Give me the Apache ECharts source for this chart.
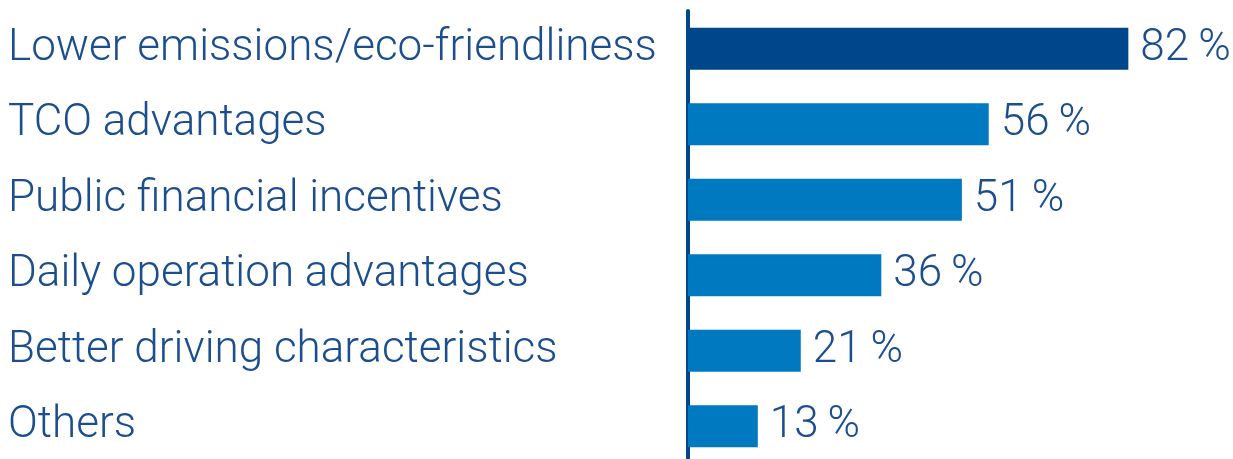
<!DOCTYPE html>
<html>
<head>
<meta charset="utf-8">
<script src="https://cdn.jsdelivr.net/npm/echarts@6/dist/echarts.min.js"></script>
<style>
  html, body { margin: 0; padding: 0; background: #ffffff; overflow: hidden; }
  #chart { width: 1233px; height: 459px; }
</style>
</head>
<body>
<div id="chart"></div>
<script>
// Reasons given, share of respondents (%)
const categories = [
  'Lower emissions/eco-friendliness',
  'TCO advantages',
  'Public financial incentives',
  'Daily operation advantages',
  'Better driving characteristics',
  'Others'
];
const shares = [82, 56, 51, 36, 21, 13];

const DARK = '#00468a';
const LIGHT = '#0079c1';
const TEXT = '#1b4e8e';
const FONT = 'Roboto, "Liberation Sans", Arial, sans-serif';

const chart = echarts.init(document.getElementById('chart'), null, { renderer: 'canvas' });

chart.setOption({
  animation: false,
  grid: {
    left: 688, width: 537, top: 11, height: 453,
    containLabel: false,
    outerBoundsMode: 'none'
  },
  xAxis: {
    type: 'value', min: 0, max: 100,
    show: false
  },
  yAxis: {
    type: 'category',
    data: categories,
    inverse: true,
    axisLine: { show: true, lineStyle: { color: DARK, width: 4 } },
    axisTick: { show: false },
    axisLabel: {
      align: 'left',
      margin: 680,
      color: TEXT,
      fontFamily: FONT,
      fontWeight: 300,
      fontSize: 44
    }
  },
  series: [{
    type: 'bar',
    data: shares.map((v, i) => ({
      value: v,
      itemStyle: { color: i === 0 ? DARK : LIGHT }
    })),
    barWidth: 42,
    label: {
      show: true,
      position: 'right',
      distance: 12,
      formatter: '{c}\u2009%',
      color: TEXT,
      fontFamily: FONT,
      fontWeight: 300,
      fontSize: 44
    }
  }]
});
</script>
</body>
</html>
